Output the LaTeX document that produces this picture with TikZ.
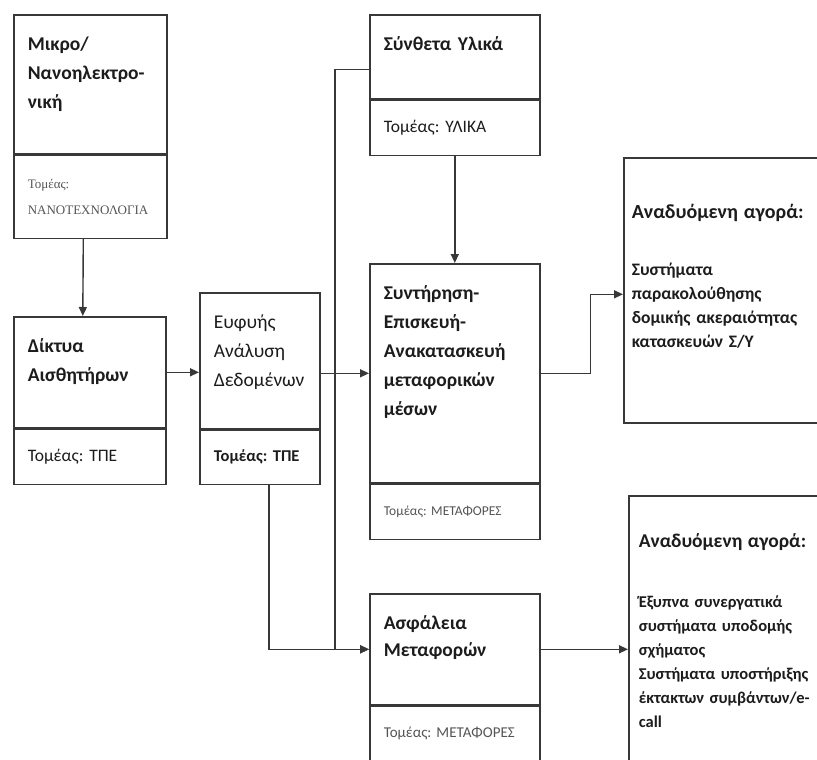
\documentclass[tikz,border=0pt]{standalone}
\usepackage{fontspec}
\setmainfont{Carlito}
\newfontfamily\timesgr{Liberation Serif}
\usetikzlibrary{arrows.meta,positioning}
\definecolor{ink}{HTML}{1C1C1C}
\definecolor{rule}{HTML}{383838}
\definecolor{faint}{HTML}{555555}
\frenchspacing

\begin{document}
\begin{tikzpicture}[x=1pt,y=-1pt,
  hd/.style={draw=rule,line width=1.6pt,anchor=north west,align=left,inner xsep=14pt,inner ysep=0pt,
    text height=36pt,text=ink,font=\fontsize{19.5}{29}\selectfont\bfseries},
  ft/.style={draw=rule,line width=1.6pt,align=left,inner xsep=14pt,inner ysep=0pt,text=ink,
    font=\fontsize{17.5}{20}\selectfont},
  mk/.style={draw=rule,line width=1.6pt,anchor=north west,align=left,inner ysep=0pt,text=ink,
    font=\fontsize{17.5}{24}\selectfont\bfseries},
  arr/.style={-{Triangle[length=9pt,width=8pt]},line width=1.4pt,rule}]
\path[use as bounding box,fill=white] (0,0) rectangle (817,760);
% left column
\node[hd,text width=125pt,text depth=103pt] (mikro) at (13,14) {Μικρο/\\Νανοηλεκτρο-\\νική};
\node[ft,text width=125pt,minimum height=83pt,below=0pt of mikro,text=faint,
  font=\timesgr\fontsize{13}{26}\selectfont] (mikroT) {Τομέας:\\ΝΑΝΟΤΕΧΝΟΛΟΓΙΑ\\[6pt]};
\node[hd,text width=124pt,text depth=75pt] (diktya) at (13,316) {Δίκτυα\\Αισθητήρων};
\node[ft,text width=124pt,minimum height=55pt,below=0pt of diktya] (diktyaT) {Τομέας: ΤΠΕ};
\node[hd,text width=92pt,text depth=100pt,font=\fontsize{19.5}{29}\selectfont] (eufyis) at (199,292) {Ευφυής\\Ανάλυση\\Δεδομένων};
\node[ft,text width=92pt,minimum height=54pt,below=0pt of eufyis,font=\fontsize{16.5}{20}\selectfont\bfseries] (eufyisT) {Τομέας: ΤΠΕ};
% middle column
\node[hd,text width=142pt,text depth=48pt] (synth) at (369,14) {Σύνθετα Υλικά};
\node[ft,text width=142pt,minimum height=55pt,below=0pt of synth] (synthT) {Τομέας: ΥΛΙΚΑ};
\node[hd,text width=142pt,text depth=183pt] (synt) at (369,263) {Συντήρηση-\\Επισκευή-\\Ανακατασκευή\\μεταφορικών\\μέσων};
\node[ft,text width=142pt,minimum height=55pt,below=0pt of synt,text=faint,font=\fontsize{13.5}{16}\selectfont] (syntT) {Τομέας: ΜΕΤΑΦΟΡΕΣ};
\node[hd,text width=142pt,text depth=75pt,font=\fontsize{19.5}{27}\selectfont\bfseries] (asfal) at (369,593) {Ασφάλεια\\Μεταφορών};
\node[ft,text width=142pt,minimum height=54pt,below=0pt of asfal,text=faint,font=\fontsize{15}{17}\selectfont] (asfalT) {Τομέας: ΜΕΤΑΦΟΡΕΣ};
% markets
\node[mk,text width=184pt,inner xsep=8pt,text height=61pt,text depth=204pt] (agora1) at (623,157)
  {{\fontsize{20}{24}\selectfont Αναδυόμενη αγορά:}\\[33pt]Συστήματα\\παρακολούθησης\\δομικής ακεραιότητας\\κατασκευών Σ/Υ};
\node[mk,text width=190pt,inner xsep=10pt,text height=52pt,text depth=240pt,font=\fontsize{16.5}{24}\selectfont\bfseries] (agora2) at (628,495)
  {{\fontsize{19.5}{24}\selectfont Αναδυόμενη αγορά:}\\[36pt]Έξυπνα συνεργατικά\\συστήματα υποδομής\\σχήματος\\Συστήματα υποστήριξης\\έκτακτων συμβάντων/e-\\call};
% connectors
\draw[arr] ([xshift=-7pt]mikroT.south) -- ([xshift=-7pt]diktya.north);
\draw[arr] (diktya.east) -- (diktya.east -| eufyis.west);
\draw[arr] (synt.west -| eufyis.east) -- (synt.west);
\draw[arr] (synthT.south) -- (synt.north);
\draw[arr] (synt.east) -- ++(50,0) |- ([yshift=-4pt]agora1.west);
\draw[arr] ([xshift=9pt]eufyisT.south) |- (asfal.west);
\draw[arr] ([yshift=-13pt]synth.west) -- ++(-34,0) |- (asfal.west);
\draw[arr] (asfal.east) -- (asfal.east -| agora2.west);
\end{tikzpicture}
\end{document}
